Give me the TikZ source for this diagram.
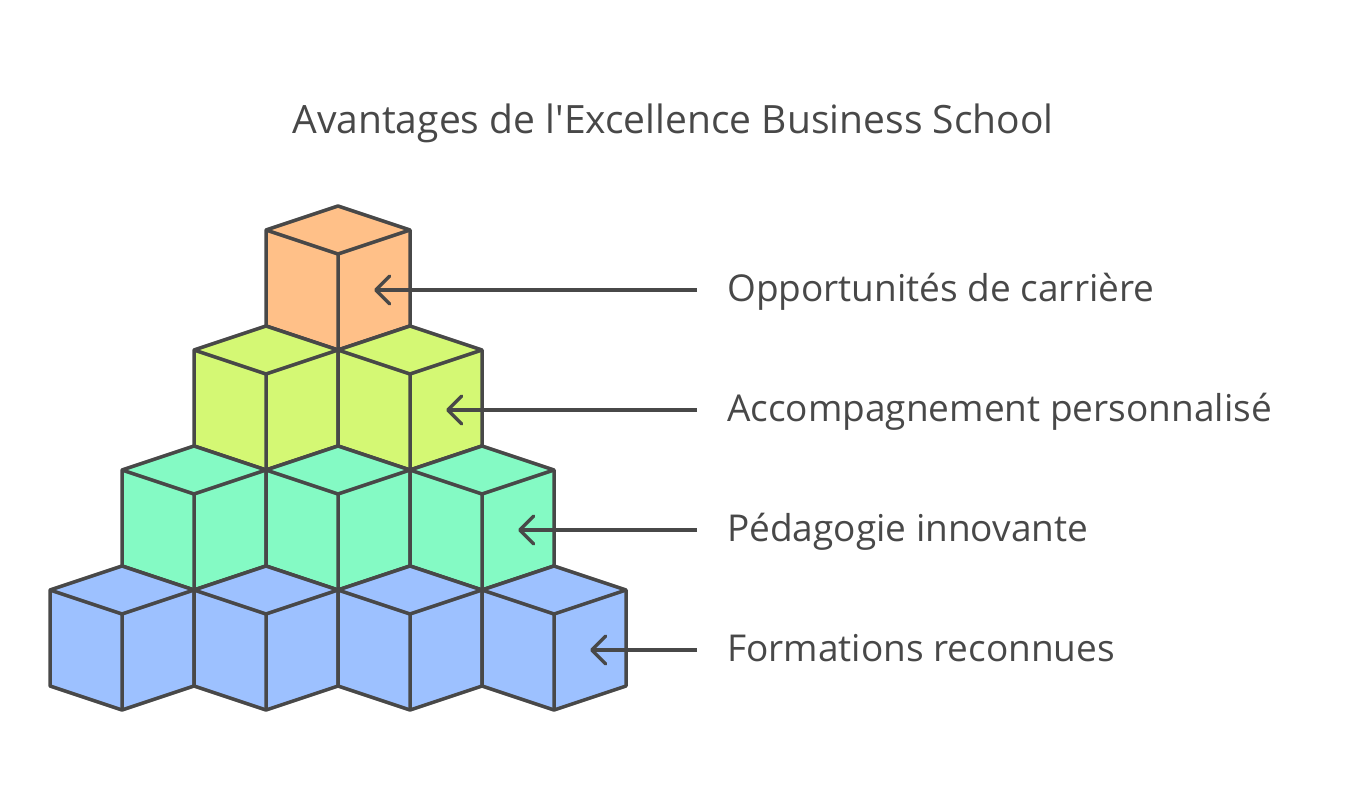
\documentclass[tikz,border=0pt]{standalone}
\usepackage{fontspec}
\setmainfont{Open Sans}
\usetikzlibrary{arrows.meta}
\definecolor{gristexto}{HTML}{484848}
\definecolor{cubonaranja}{HTML}{FFC088}
\definecolor{cubolima}{HTML}{D4F874}
\definecolor{cuboverde}{HTML}{84FAC4}
\definecolor{cuboazul}{HTML}{9DC1FF}
\tikzstyle{cara} = [draw=gristexto, line width=3.5pt, line join=round]
\tikzstyle{etiqueta} = [anchor=west, inner sep=0pt, text height=22pt, text depth=0pt, text=gristexto, font=\fontsize{37}{44}\selectfont]
\tikzstyle{titulo} = [inner sep=0pt, text height=28pt, text depth=0pt, text=gristexto, font=\fontsize{39}{46}\selectfont]
\tikzstyle{arrow} = [draw=gristexto, line width=3.5pt, -{Straight Barb[length=14pt,width=28pt,round]}, shorten <=30pt]
% un cubo: esquina izquierda (#1,#2), color #3
\newcommand{\cubo}[3]{%
  \filldraw[cara, fill=#3] (#1,#2) -- ++(72,-24) -- ++(72,24) -- ++(0,96) -- ++(-72,24) -- ++(-72,-24) -- cycle;
  \draw[cara] (#1,#2) -- ++(72,24) -- ++(72,-24) ++(-72,24) -- ++(0,96);
}
\begin{document}
\begin{tikzpicture}[x=1pt, y=-1pt]
    \useasboundingbox (0,0) rectangle (1348,808);
    % Titulo
    \node (titulo) [titulo] at (673,119) {Avantages de l\textquotesingle Excellence Business School};
    % Cubos
    \foreach \r/\col in {3/cubonaranja,2/cubolima,1/cuboverde,0/cuboazul}{
        \pgfmathtruncatemacro{\n}{3-\r}
        \foreach \i in {0,...,\n}{
            \cubo{50+72*\r+144*\i}{590-120*\r}{\col}
        }
        \coordinate (punta\r) at ({50+72*\r+144*\n+108},{650-120*\r});
    }
    % Textos
    \node (carriere) [etiqueta] at (727,290) {Opportunités de carrière};
    \node (accomp) [etiqueta] at (727,410) {Accompagnement personnalisé};
    \node (pedago) [etiqueta] at (727,530) {Pédagogie innovante};
    \node (formations) [etiqueta] at (727,650) {Formations reconnues};
    % Flechas
    \draw[arrow] (carriere.west) -- (punta3);
    \draw[arrow] (accomp.west) -- (punta2);
    \draw[arrow] (pedago.west) -- (punta1);
    \draw[arrow] (formations.west) -- (punta0);
\end{tikzpicture}
\end{document}
